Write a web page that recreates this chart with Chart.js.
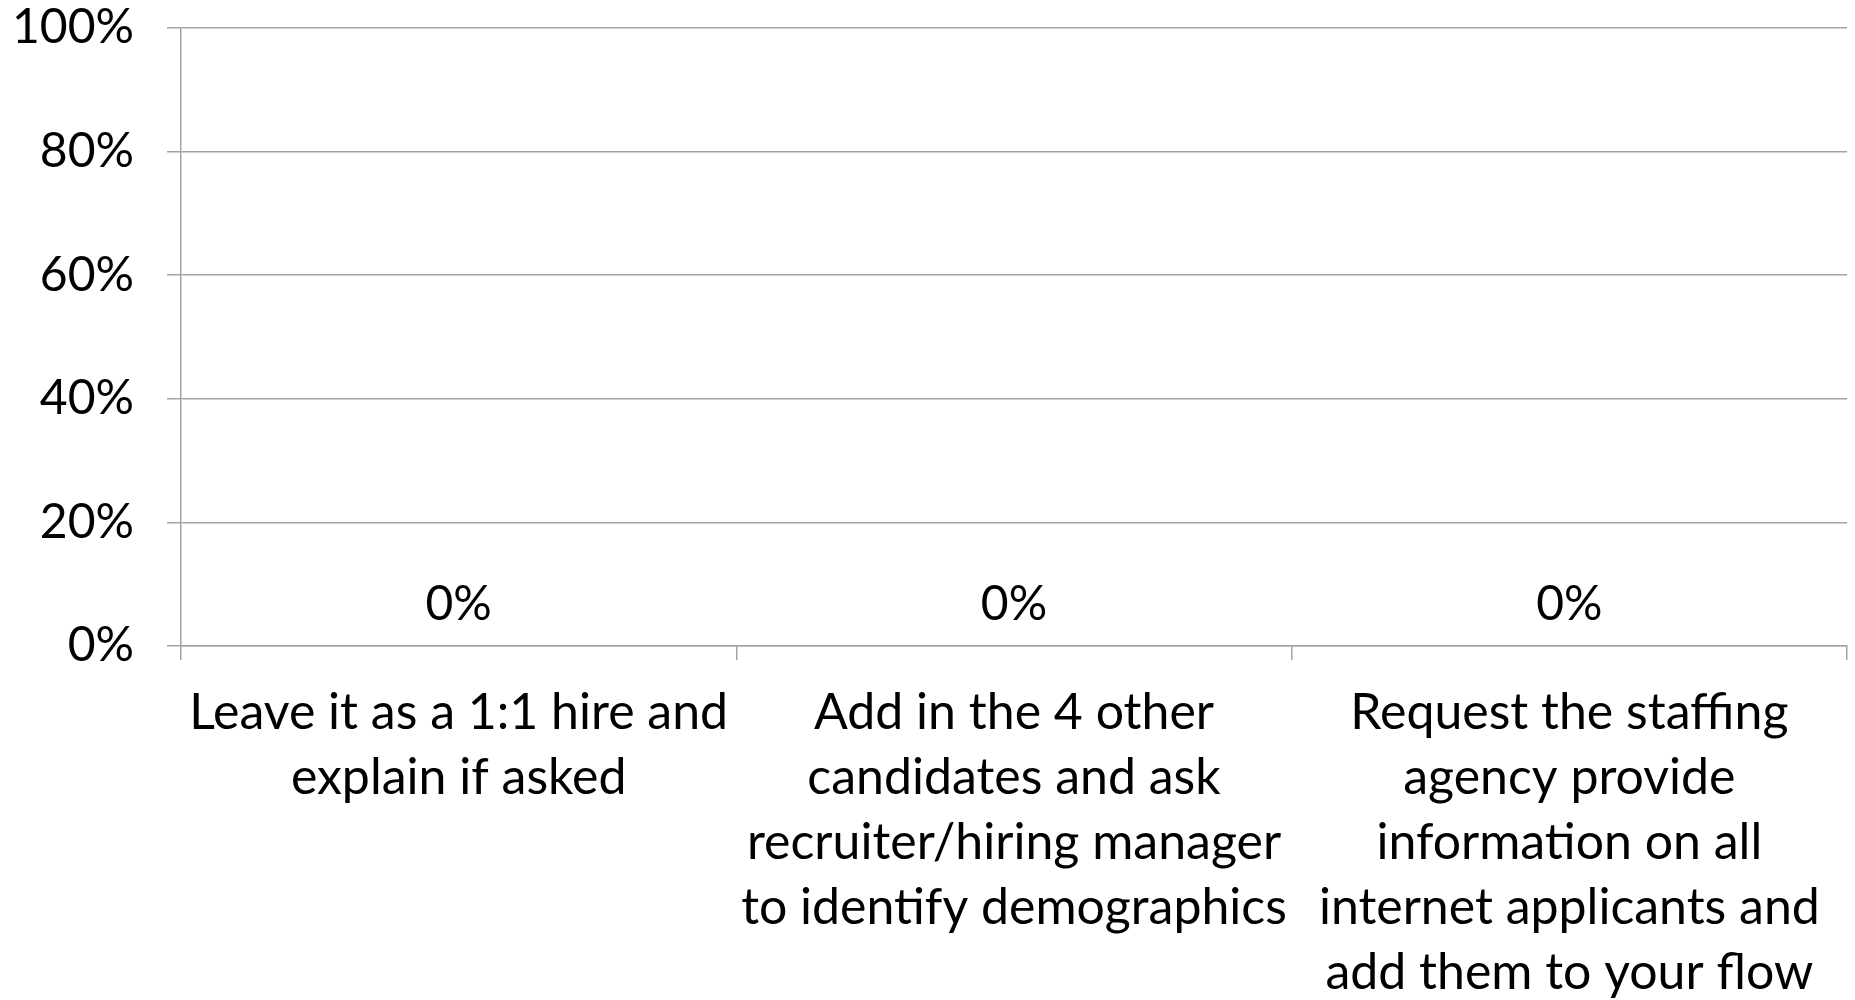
<!DOCTYPE html>
<html lang="en">
<head>
    <meta charset="UTF-8">
    <title>Response Options</title>
    <script src="https://cdn.jsdelivr.net/npm/chart.js"></script>
    <style>
        body {
            margin: 0;
            background-color: #ffffff;
        }
        .chart-container {
            width: 1855px;
            height: 1000px;
        }
    </style>
</head>
<body>
    <div class="chart-container">
        <canvas id="answerChart"></canvas>
    </div>

    <script>
        // Answer options (one entry per line of the wrapped label)
        const answers = [
            ["Leave it as a 1:1 hire and", "explain if asked"],
            ["Add in the 4 other", "candidates and ask", "recruiter/hiring manager", "to identify demographics"],
            ["Request the staffing", "agency provide", "information on all", "internet applicants and", "add them to your flow"]
        ];
        // Share of responses, in percent
        const responses = [0, 0, 0];
        const percentTicks = [0, 20, 40, 60, 80, 100];

        const FONT = "Lato, 'Open Sans', sans-serif";
        const GRID = "#a3a3a3";

        // Writes the percentage above each bar
        const valueLabels = {
            id: "valueLabels",
            afterDatasetsDraw(chart) {
                const ctx = chart.ctx;
                const x = chart.scales.x;
                const y = chart.scales.y;
                ctx.save();
                ctx.font = "48px " + FONT;
                ctx.fillStyle = "#000000";
                ctx.textAlign = "center";
                ctx.textBaseline = "middle";
                responses.forEach((v, i) => {
                    ctx.fillText(v + "%", x.getPixelForValue(i), y.getPixelForValue(v) - 41);
                });
                ctx.restore();
            }
        };

        document.addEventListener("DOMContentLoaded", function () {
            const ctx = document.getElementById("answerChart").getContext("2d");
            new Chart(ctx, {
                type: "bar",
                data: {
                    labels: answers,
                    datasets: [{
                        data: responses,
                        backgroundColor: "#4f81bd",
                        borderWidth: 0
                    }]
                },
                options: {
                    responsive: true,
                    maintainAspectRatio: false,
                    animation: false,
                    layout: {
                        padding: { top: 28, right: 8, left: 0, bottom: 0 }
                    },
                    plugins: {
                        legend: { display: false },
                        tooltip: { enabled: false }
                    },
                    scales: {
                        x: {
                            afterFit(scale) {
                                scale.height = 354;
                                scale.paddingLeft = 0;
                                scale.paddingRight = 0;
                            },
                            grid: {
                                offset: true,
                                drawOnChartArea: false,
                                drawTicks: true,
                                tickLength: 14,
                                color: GRID,
                                lineWidth: 1.5
                            },
                            border: { color: GRID, width: 1.5 },
                            ticks: {
                                color: "#000000",
                                font: { family: FONT, size: 50, lineHeight: 1.3 },
                                padding: 20,
                                maxRotation: 0,
                                autoSkip: false
                            }
                        },
                        y: {
                            min: 0,
                            max: 100,
                            afterFit(scale) {
                                scale.width = 181;
                                scale.paddingTop = 0;
                                scale.paddingBottom = 0;
                            },
                            afterBuildTicks(scale) {
                                scale.ticks = percentTicks.map(v => ({ value: v }));
                            },
                            grid: {
                                color: GRID,
                                lineWidth: 1.5,
                                tickLength: 14
                            },
                            border: { color: GRID, width: 1.5 },
                            ticks: {
                                color: "#000000",
                                font: { family: FONT, size: 48 },
                                padding: 33,
                                callback: v => v + "%"
                            }
                        }
                    }
                },
                plugins: [valueLabels]
            });
        });
    </script>
</body>
</html>
